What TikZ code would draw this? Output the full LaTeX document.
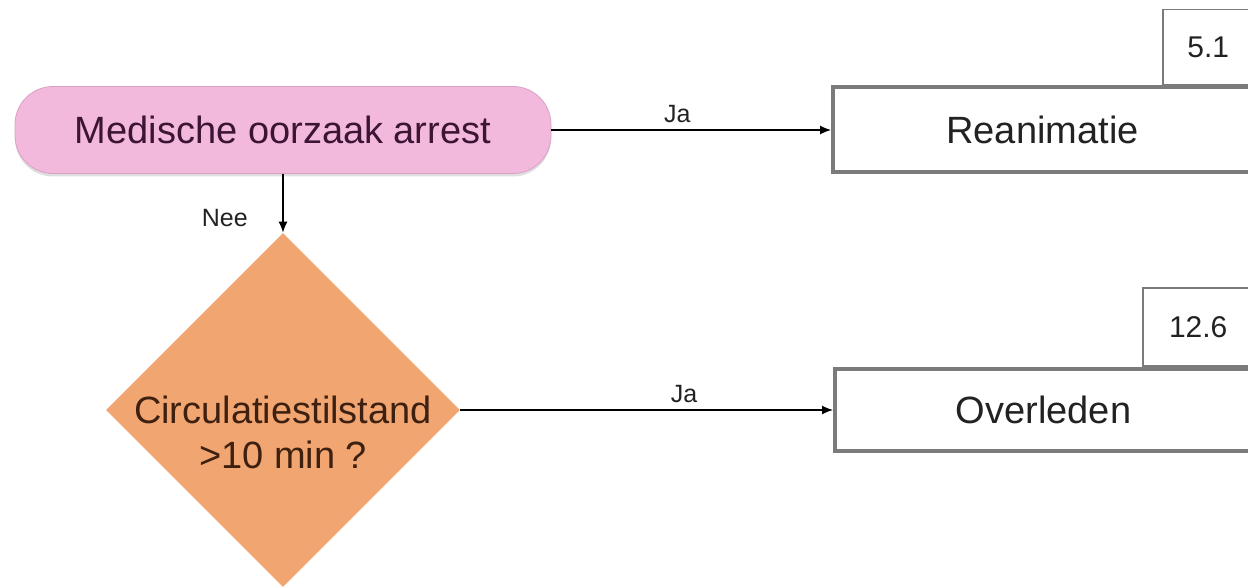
\documentclass[tikz,border=0pt]{standalone}
\usepackage{fontspec}
\setmainfont{Liberation Sans}
\usetikzlibrary{positioning, arrows.meta, shapes.geometric, shadows}
\definecolor{flow-pink}{HTML}{F3B9DD}
\definecolor{flow-pinkline}{HTML}{D9A0C6}
\definecolor{flow-plum}{HTML}{3C1434}
\definecolor{flow-orange}{HTML}{F1A571}
\definecolor{flow-brown}{HTML}{3E2010}
\definecolor{flow-gray}{HTML}{7B7B7B}
\definecolor{flow-ink}{HTML}{222222}

\begin{document}
\begin{tikzpicture}[x=0.5pt, y=-0.5pt,
    startbox/.style={draw=flow-pinkline, fill=flow-pink, rounded corners=19pt,
        minimum width=268pt, minimum height=43.5pt, text=flow-plum,
        font=\fontsize{19}{22}\selectfont,
        drop shadow={opacity=0.25, shadow xshift=0pt, shadow yshift=-1.5pt}},
    decision/.style={diamond, aspect=1, fill=flow-orange, inner sep=0pt,
        minimum size=177pt},
    endbox/.style={draw=flow-gray, line width=2pt, fill=white, text=flow-ink,
        font=\fontsize{19}{22}\selectfont},
    numbox/.style={draw=flow-gray, line width=0.8pt, fill=white, text=flow-ink,
        font=\fontsize{15}{18}\selectfont},
    flow/.style={draw=black, line width=0.6pt, -{Latex[length=5.5pt, width=4.5pt]}},
    lbl/.style={font=\fontsize{12.5}{14}\selectfont, text=flow-ink},
]
    \useasboundingbox (0,0) rectangle (1248,588);

    % Start
    \node[startbox] (start) at (283,130) {Medische oorzaak arrest};

    % Decision
    \node[decision] (dec) at (283,410) {};
    \node[align=center, text=flow-brown, font=\fontsize{19}{22.5}\selectfont]
        (dectext) at (283,432) {Circulatiestilstand\\>10 min ?};

    % Outcomes
    \node[endbox, minimum width=209.5pt, minimum height=42.5pt] (reani) at (1042.5,130) {Reanimatie};
    \node[endbox, minimum width=208.5pt, minimum height=41pt] (over) at (1043.5,410) {Overleden};

    \node[numbox, minimum width=45pt, minimum height=37.5pt,
          above left=0pt and 0pt of reani.north east] (reaninum) {5.1};
    \node[numbox, minimum width=55pt, minimum height=39pt,
          above left=0pt and 0pt of over.north east] (overnum) {12.6};

    % Arrows
    \draw[flow] (start.east) -- node[lbl, above, pos=0.45] {Ja} (reani.west);
    \draw[flow] (dec.east) -- node[lbl, above, pos=0.6] {Ja} (over.west);
    \draw[flow] (start.south) -- node[lbl, left=14pt, pos=0.75] {Nee} (dec.north);

\end{tikzpicture}
\end{document}
